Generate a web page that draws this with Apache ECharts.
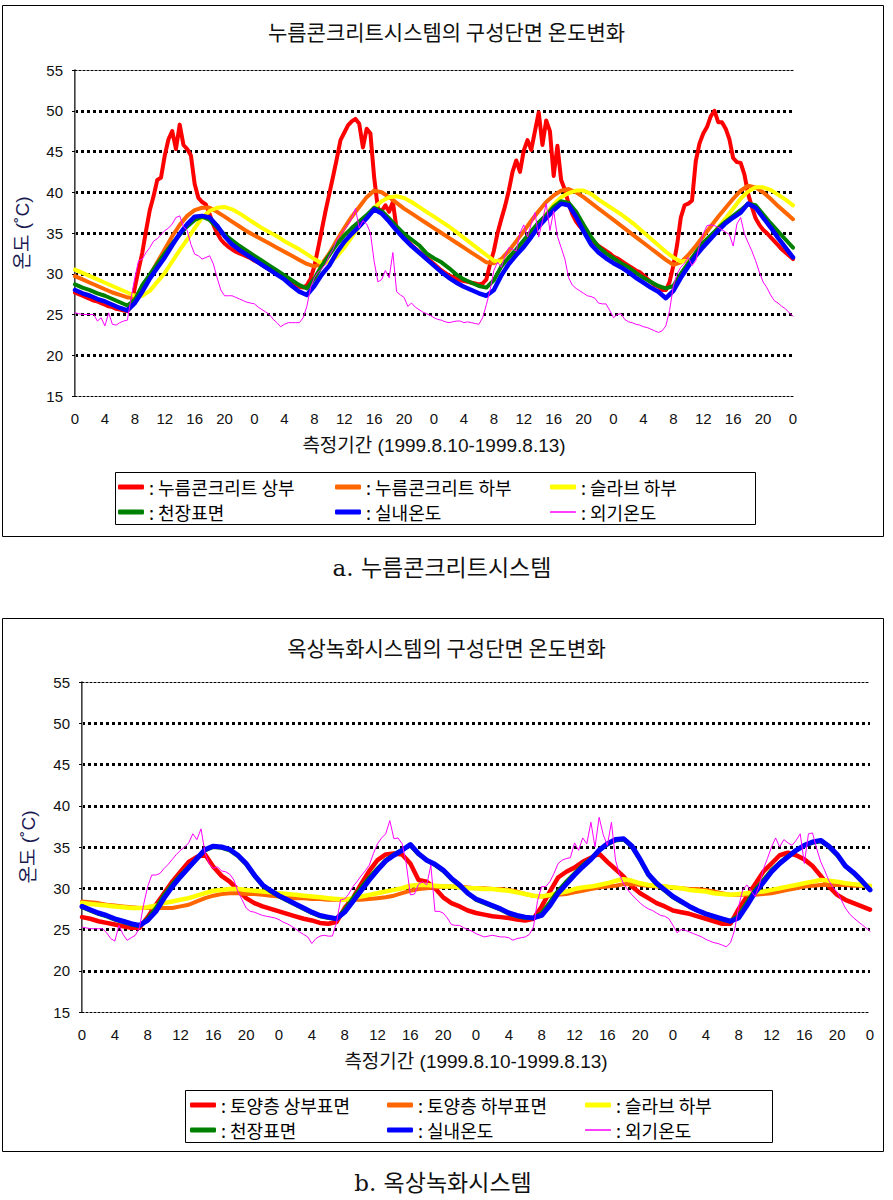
<!DOCTYPE html>
<html><head><meta charset="utf-8">
<script src="https://cdn.jsdelivr.net/npm/echarts@6/dist/echarts.min.js"></script>
<style>html,body{margin:0;padding:0;background:#fff}#c{width:893px;height:1200px}</style>
</head><body><div id="c"></div>
<script>
// ---------- time grid & tick labels ----------
const HOURS_1H = []; for (let h = 0; h <= 96; h++) HOURS_1H.push(h);
const HOURS_HALF = []; for (let h = 0; h <= 96; h += 0.5) HOURS_HALF.push(h);
const X_TICK_LABELS = ['0','4','8','12','16','20','0','4','8','12','16','20','0','4','8','12','16','20','0','4','8','12','16','20','0'];
const Y_MIN = 15, Y_MAX = 55, Y_STEP = 5;

// ---------- chart a: 누름콘크리트시스템 ----------
const A_TITLE = '누름콘크리트시스템의 구성단면 온도변화';
const A_NAMES = ['누름콘크리트 상부','누름콘크리트 하부','슬라브 하부','천장표면','실내온도','외기온도'];
// half-hourly
const A_TOP = [
27.7,27.5,27.3,27.1,26.9,26.7,26.6,26.4, 26.2,26.0,25.9,25.7,25.6,25.5,25.4,26.0,
28.3,30.5,32.6,35.3,37.8,39.5,41.5,41.8, 44.5,46.5,47.5,45.3,48.3,45.8,45.3,44.5,
41.0,39.3,38.8,38.5,37.3,36.0,35.0,34.2, 33.7,33.3,33.0,32.7,32.5,32.3,32.1,31.9,
31.6,31.4,31.1,30.8,30.5,30.3,30.0,29.7, 29.4,29.1,28.8,28.6,28.4,28.3,28.6,29.4,
30.9,33.1,35.4,37.7,39.8,41.9,44.1,46.4, 47.3,48.2,48.7,49.0,48.4,45.5,47.8,47.2,
41.8,38.0,37.7,38.4,37.6,38.8,35.5,35.0, 34.5,34.0,33.5,33.1,32.7,32.3,32.0,31.6,
31.2,30.8,30.4,30.1,29.8,29.6,29.4,29.2, 29.1,29.0,28.9,28.8,28.7,28.8,29.3,31.2,
32.8,35.0,36.7,38.3,40.2,42.5,43.9,42.5, 45.1,46.4,45.2,47.5,49.8,45.8,48.8,47.5,
42.0,45.7,41.5,40.3,38.6,37.3,36.4,35.8, 35.3,34.8,34.3,33.8,33.4,33.1,32.8,32.5,
32.1,31.9,31.6,31.3,31.0,30.7,30.4,30.2, 29.8,29.4,29.0,28.6,28.4,28.0,28.0,29.0,
31.0,33.5,36.9,38.4,38.6,39.0,43.8,46.0, 47.2,48.0,49.3,50.0,48.6,48.6,47.8,46.5,
44.2,43.7,43.6,42.2,39.8,38.2,36.8,36.0, 35.4,35.0,34.5,34.0,33.5,33.0,32.6,32.2,
31.8];
// hourly
const A_BOTTOM = [
29.7,29.3,28.9,28.5,28.1,27.7,27.4,27.1, 27.1,28.2,29.8,31.4,33.0,34.6,36.0,37.1,
37.8,38.1,38.1,37.6,37.0,36.4,35.8,35.2, 34.7,34.2,33.7,33.2,32.7,32.2,31.7,31.2,
30.9,31.2,32.5,34.1,35.6,37.0,38.2,39.4, 40.2,40.0,39.4,38.7,38.0,37.4,36.8,36.2,
35.6,35.0,34.4,33.8,33.2,32.6,32.0,31.4, 31.3,31.8,32.8,34.0,35.2,36.5,37.7,38.8,
39.6,40.2,40.4,40.0,39.4,38.7,38.0,37.3, 36.6,35.9,35.2,34.5,33.8,33.1,32.4,31.7,
31.1,31.4,32.3,33.4,34.6,35.8,37.0,38.1, 39.2,40.2,40.8,40.6,40.0,39.2,38.3,37.5,
36.7];
const A_SLAB = [
30.5,30.1,29.7,29.3,28.9,28.5,28.1,27.7, 27.3,27.3,27.9,29.0,30.1,31.5,32.9,34.2,
35.6,36.9,37.7,38.1,38.2,37.9,37.4,36.8, 36.2,35.6,35.1,34.6,34.0,33.5,33.0,32.4,
31.8,31.3,31.4,32.1,33.2,34.5,35.8,37.0, 38.1,38.9,39.4,39.5,39.3,38.8,38.2,37.6,
37.0,36.4,35.8,35.1,34.4,33.7,33.0,32.3, 31.6,31.5,31.9,32.7,33.6,34.8,36.0,37.3,
38.5,39.4,39.9,40.2,40.2,39.8,39.1,38.5, 37.9,37.3,36.6,35.9,35.1,34.3,33.5,32.7,
32.0,31.5,31.6,32.2,33.3,34.5,35.7,36.8, 38.0,39.2,40.1,40.6,40.6,40.3,39.7,39.1,
38.4];
const A_CEIL = [
28.7,28.3,28.0,27.6,27.3,26.9,26.5,26.1, 26.8,28.6,29.9,31.2,32.5,33.7,34.8,35.8,
36.6,37.0,36.6,35.7,34.8,34.1,33.4,32.8, 32.2,31.6,31.0,30.4,29.8,29.2,28.6,28.2,
29.4,31.0,32.3,33.6,34.7,35.6,36.4,37.2, 38.1,37.7,36.8,35.8,34.9,34.2,33.5,32.5,
31.9,31.4,30.7,29.9,29.3,28.9,28.5,28.3, 29.2,30.9,32.0,33.0,34.1,35.2,36.3,37.2,
38.2,38.9,38.7,37.6,36.0,34.5,33.3,32.5, 31.9,31.3,30.8,30.1,29.5,29.0,28.5,28.2,
28.5,30.0,31.3,32.6,33.8,34.7,35.6,36.4, 37.1,37.8,38.6,38.4,37.3,36.2,35.2,34.2,
33.2];
const A_ROOM = [
28.0,27.6,27.3,26.9,26.6,26.2,25.8,25.5, 26.4,27.8,29.4,30.7,32.0,33.5,34.9,36.1,
37.0,37.1,36.9,35.9,34.6,33.6,32.9,32.3, 31.7,31.1,30.5,29.9,29.3,28.5,27.8,27.4,
28.5,29.9,31.0,32.6,33.9,34.9,35.8,36.8, 37.9,37.4,36.4,35.3,34.3,33.4,32.6,31.8,
31.0,30.2,29.5,28.9,28.4,28.0,27.6,27.3, 28.0,29.8,31.2,32.3,33.3,34.5,35.8,36.8,
37.8,38.6,38.4,37.0,35.2,33.6,32.6,31.9, 31.3,30.8,30.2,29.5,28.9,28.3,27.8,27.0,
27.9,29.5,30.9,32.2,33.3,34.3,35.3,36.2, 36.9,37.5,38.6,38.1,36.9,35.7,34.4,33.2,
32.0];
// half-hourly
const A_OUT = [
25.2,25.1,25.0,25.0,25.0,25.0,24.2,24.6, 23.6,25.2,23.8,23.7,24.0,24.2,24.3,27.0,
29.5,31.6,31.8,32.6,33.2,34.0,34.3,34.8, 35.3,35.6,36.1,36.9,37.1,35.8,35.3,33.6,
32.4,32.2,31.8,32.0,32.2,31.2,29.5,28.0, 27.3,27.3,27.3,27.1,26.9,26.7,26.5,26.4,
26.3,25.9,25.6,25.3,25.0,24.4,24.0,23.5, 23.8,24.0,24.0,24.0,24.0,24.6,26.0,28.3,
29.5,30.2,30.6,31.2,32.2,33.0,34.1,34.8, 35.4,36.0,36.8,38.0,35.6,36.5,36.1,35.0,
31.5,29.0,29.3,30.4,29.5,32.6,27.8,27.4, 27.1,26.0,26.4,25.9,25.6,25.3,25.1,24.9,
24.6,24.4,24.3,24.1,24.0,24.1,24.2,24.2, 24.0,24.1,24.0,23.9,23.8,24.6,26.2,28.0,
30.4,31.4,30.8,32.2,33.2,33.0,32.8,35.0, 36.0,34.5,36.1,37.5,34.5,36.5,38.6,35.3,
37.7,34.6,33.2,31.8,29.5,28.6,28.2,27.9, 27.6,27.3,27.2,27.0,26.4,26.3,26.3,25.5,
24.6,25.0,25.1,24.4,24.1,24.0,23.8,23.7, 23.5,23.4,23.2,23.0,22.8,23.0,23.6,25.5,
28.5,30.0,30.8,31.3,32.0,31.0,31.6,33.5, 34.9,35.9,36.0,35.9,35.7,35.4,35.1,34.8,
33.4,36.1,36.9,34.9,33.8,32.8,31.6,30.2, 29.0,28.3,27.4,26.7,26.4,26.0,25.7,25.2,
24.8];

// ---------- chart b: 옥상녹화시스템 ----------
const B_TITLE = '옥상녹화시스템의 구성단면 온도변화';
const B_NAMES = ['토양층 상부표면','토양층 하부표면','슬라브 하부','천장표면','실내온도','외기온도'];
const B_SOIL_TOP = [
26.5,26.3,26.0,25.8,25.6,25.4,25.2,25.2, 26.5,28.0,29.4,30.8,32.0,33.2,33.8,34.1,
32.6,31.5,30.8,29.8,28.8,28.2,27.8,27.5, 27.2,26.9,26.6,26.3,26.1,25.8,25.7,25.9,
27.6,28.8,30.5,32.1,33.4,34.1,34.2,34.1, 33.0,31.0,30.8,30.0,28.9,28.2,27.8,27.3,
27.0,26.8,26.6,26.5,26.4,26.2,26.1,26.3, 27.8,29.6,31.3,32.0,32.5,33.2,33.7,34.2,
33.2,32.3,31.4,30.2,29.4,28.8,28.2,27.8, 27.3,27.1,26.9,26.6,26.3,26.0,25.7,25.7,
27.5,29.0,30.5,32.0,33.0,34.0,34.3,34.0, 33.5,32.7,31.5,30.2,29.2,28.6,28.2,27.8,
27.4];
const B_SOIL_BOTTOM = [
28.4,28.3,28.2,28.0,27.9,27.8,27.7,27.6, 27.6,27.6,27.6,27.6,27.8,28.0,28.4,28.8,
29.1,29.3,29.4,29.4,29.3,29.3,29.2,29.1, 29.0,28.9,28.8,28.8,28.7,28.7,28.6,28.6,
28.6,28.6,28.6,28.7,28.8,28.9,29.1,29.4, 29.7,29.9,30.0,30.1,30.2,30.2,30.2,30.1,
30.0,30.0,29.9,29.9,29.8,29.6,29.3,29.1, 29.0,29.1,29.2,29.3,29.5,29.7,29.9,30.1,
30.2,30.3,30.5,30.5,30.4,30.3,30.2,30.2, 30.1,30.0,29.9,29.9,29.8,29.6,29.4,29.2,
29.2,29.2,29.2,29.3,29.4,29.6,29.8,30.0, 30.2,30.3,30.4,30.4,30.4,30.4,30.3,30.3,
30.2];
const B_SLAB = [
28.2,28.1,28.0,27.9,27.8,27.7,27.6,27.6, 27.7,27.9,28.2,28.4,28.6,28.8,29.1,29.4,
29.7,29.8,29.9,29.9,29.8,29.7,29.6,29.5, 29.4,29.3,29.2,29.1,29.0,28.9,28.8,28.7,
28.6,28.8,29.0,29.2,29.4,29.6,29.8,30.0, 30.3,30.4,30.4,30.3,30.2,30.2,30.1,30.0,
30.0,29.9,29.9,29.8,29.7,29.5,29.3,29.1, 29.0,29.2,29.4,29.6,29.9,30.1,30.2,30.4,
30.6,30.9,31.1,30.9,30.6,30.4,30.3,30.2, 30.1,30.0,29.8,29.7,29.6,29.4,29.3,29.2,
29.3,29.4,29.5,29.6,29.8,30.0,30.2,30.4, 30.6,30.8,31.0,30.9,30.8,30.6,30.5,30.4,
30.3];
const B_CEIL = [
27.7,27.3,26.9,26.6,26.2,25.9,25.6,25.4, 26.3,27.6,29.2,30.5,31.6,32.6,33.6,34.6,
35.0,34.9,34.6,33.9,32.9,31.5,30.3,29.6, 29.0,28.5,28.0,27.5,27.0,26.6,26.4,26.3,
27.4,28.8,30.1,31.3,32.4,33.4,34.1,34.7, 35.2,34.1,33.4,32.8,32.1,31.1,30.3,29.4,
28.6,28.2,27.8,27.4,26.9,26.6,26.4,26.4, 27.0,28.3,29.7,30.8,31.8,32.8,33.6,34.6,
35.3,35.8,35.9,35.0,33.4,31.6,30.5,29.7, 28.9,28.3,27.8,27.3,26.9,26.5,26.2,26.0,
26.7,28.3,29.8,31.0,32.2,33.1,33.9,34.6, 35.2,35.5,35.7,35.0,34.0,32.7,31.8,30.8,
29.8];
const B_ROOM = [
27.8,27.4,27.0,26.7,26.3,26.0,25.7,25.5, 26.1,27.2,28.8,30.2,31.4,32.5,33.6,34.7,
35.1,35.0,34.7,34.0,33.0,31.6,30.4,29.7, 29.1,28.6,28.1,27.6,27.1,26.7,26.5,26.3,
27.1,28.4,29.7,31.0,32.2,33.3,34.0,34.6, 35.3,34.2,33.4,32.9,32.2,31.2,30.4,29.4,
28.7,28.3,27.9,27.5,27.0,26.7,26.5,26.4, 26.7,27.9,29.4,30.5,31.6,32.6,33.5,34.6,
35.4,35.9,36.0,35.1,33.5,31.7,30.6,29.8, 29.0,28.4,27.8,27.3,26.9,26.6,26.3,26.0,
26.4,27.9,29.5,30.7,32.0,33.0,33.8,34.6, 35.2,35.6,35.8,35.1,34.1,32.7,31.9,30.9,
29.8];
const B_OUT = [
25.3,25.2,25.1,25.1,25.1,25.1,24.6,23.9, 23.6,25.5,24.4,23.7,24.0,24.3,25.2,28.0,
30.2,31.6,31.6,31.8,32.4,32.9,33.5,34.1, 34.6,35.0,35.5,36.6,35.9,37.2,34.2,33.0,
32.4,32.6,32.1,32.0,31.7,31.0,29.6,28.6, 27.6,27.2,27.1,26.9,26.7,26.6,26.5,26.4,
26.2,25.9,25.7,25.4,25.1,24.7,24.4,24.1, 23.3,23.9,24.2,24.3,24.2,24.2,25.8,28.6,
28.7,29.3,30.2,30.8,31.5,32.1,32.8,34.2, 35.4,36.1,36.6,38.2,36.0,36.1,35.4,33.0,
29.2,29.3,30.5,30.8,30.4,32.8,27.2,27.2, 27.0,26.4,25.6,25.5,25.5,25.2,25.0,24.8,
24.5,24.3,24.1,24.2,24.3,24.2,24.1,24.1, 24.0,23.7,23.9,24.0,24.1,24.4,25.3,28.5,
30.2,30.2,30.8,31.8,33.0,33.4,33.6,33.7, 35.5,34.6,36.1,35.4,38.0,35.0,38.6,36.5,
35.2,38.0,33.4,31.6,30.5,29.8,29.2,28.7, 28.2,27.8,27.5,27.3,27.0,26.7,26.6,26.3,
25.5,24.6,25.0,24.9,24.7,24.5,24.3,24.1, 23.8,23.6,23.4,23.3,23.1,22.9,23.4,24.9,
27.8,29.8,30.4,29.7,29.0,30.3,32.3,33.6, 35.0,36.1,35.0,35.9,35.5,35.2,35.8,36.6,
33.0,36.6,36.7,34.8,33.2,32.1,30.9,30.1, 29.5,28.6,27.6,26.9,26.4,26.0,25.6,25.2,
24.8];

const COLORS = ['#FF0000','#FF6600','#FFFF00','#008000','#0000FF','#FF00FF'];
const X_NAME = '측정기간 (1999.8.10-1999.8.13)';
const Y_NAME = '온도 (˚C)';
const CAPTION_A = 'a. 누름콘크리트시스템';
const CAPTION_B = 'b. 옥상녹화시스템';

// ---------- build ----------
const FONT = "'Liberation Sans', 'Noto Sans CJK KR', sans-serif";
const KFONT = "'Noto Sans CJK KR', sans-serif";
function pairs(hours, vals) { return hours.map((h, i) => [h, vals[i]]); }

const GRIDS = [
  { left: 75, top: 70, width: 718, height: 326, nameGapY: 43 },
  { left: 82, top: 682, width: 788, height: 330, nameGapY: 44 }
];

const xAxes = [], yAxes = [];
GRIDS.forEach((g, gi) => {
  xAxes.push({
    gridIndex: gi, type: 'value', min: 0, max: 96, interval: 4, position: 'bottom',
    axisLine: { show: true, lineStyle: { color: '#000', width: 1.2, type: [2, 2] } },
    axisTick: { show: false },
    splitLine: { show: false },
    axisLabel: { margin: 15, fontSize: 15, color: '#111', fontFamily: FONT,
      formatter: v => X_TICK_LABELS[Math.round(v / 4)] },
    name: X_NAME, nameLocation: 'middle', nameGap: 40,
    nameTextStyle: { fontSize: 19, color: '#111', fontFamily: FONT }
  });
  xAxes.push({
    gridIndex: gi, type: 'value', min: 0, max: 96, position: 'top',
    axisLine: { show: true, lineStyle: { color: '#000', width: 1.2, type: [2, 2] } },
    axisTick: { show: false }, axisLabel: { show: false }, splitLine: { show: false }
  });
  yAxes.push({
    gridIndex: gi, type: 'value', min: Y_MIN, max: Y_MAX, interval: Y_STEP,
    axisLine: { show: true, lineStyle: { color: '#000', width: 1.5 } },
    axisTick: { show: true, length: 3, lineStyle: { color: '#000' } },
    axisLabel: { margin: 12, fontSize: 15, color: '#111', fontFamily: FONT },
    splitLine: { show: true, showMinLine: false, showMaxLine: false,
      lineStyle: { color: '#000', width: 2.8, type: [3, 3] } },
    name: Y_NAME, nameLocation: 'middle', nameGap: g.nameGapY, nameRotate: 90,
    nameTextStyle: { fontSize: 19, color: '#1a1a50', fontFamily: FONT }
  });
  yAxes.push({
    gridIndex: gi, type: 'value', min: Y_MIN, max: Y_MAX, position: 'right',
    axisLine: { show: true, lineStyle: { color: '#888', width: 1 } },
    axisTick: { show: false }, axisLabel: { show: false }, splitLine: { show: false }
  });
});

function mkSeries(name, hours, vals, gi, ci, width) {
  return {
    type: 'line', name, xAxisIndex: gi * 2, yAxisIndex: gi * 2,
    data: pairs(hours, vals), symbol: 'none', showSymbol: false, animation: false,
    lineStyle: { color: COLORS[ci], width, join: 'round', cap: 'round' },
    itemStyle: { color: COLORS[ci] }, emphasis: { disabled: true }, silent: true
  };
}

const series = [
  mkSeries(A_NAMES[0], HOURS_HALF, A_TOP, 0, 0, 4),
  mkSeries(A_NAMES[1], HOURS_1H, A_BOTTOM, 0, 1, 4),
  mkSeries(A_NAMES[2], HOURS_1H, A_SLAB, 0, 2, 4),
  mkSeries(A_NAMES[3], HOURS_1H, A_CEIL, 0, 3, 4),
  mkSeries(A_NAMES[4], HOURS_1H, A_ROOM, 0, 4, 4.5),
  mkSeries(A_NAMES[5], HOURS_HALF, A_OUT, 0, 5, 1),
  mkSeries(B_NAMES[0], HOURS_1H, B_SOIL_TOP, 1, 0, 4.5),
  mkSeries(B_NAMES[1], HOURS_1H, B_SOIL_BOTTOM, 1, 1, 4),
  mkSeries(B_NAMES[2], HOURS_1H, B_SLAB, 1, 2, 4.5),
  mkSeries(B_NAMES[3], HOURS_1H, B_CEIL, 1, 3, 4),
  mkSeries(B_NAMES[4], HOURS_1H, B_ROOM, 1, 4, 5),
  mkSeries(B_NAMES[5], HOURS_HALF, B_OUT, 1, 5, 1)
];

// legends: one component per item, laid out 3 columns x 2 rows
const LEGEND_LAYOUT = [
  { names: A_NAMES, cols: [118, 335, 550], rows: [477, 502] },
  { names: B_NAMES, cols: [190, 387, 585], rows: [1095, 1120] }
];
const legends = [];
LEGEND_LAYOUT.forEach(L => {
  L.names.forEach((nm, i) => {
    const ci = i;
    legends.push({
      data: [{ name: nm, icon: 'roundRect', itemStyle: { color: COLORS[ci] } }],
      left: L.cols[i % 3], top: L.rows[Math.floor(i / 3)],
      orient: 'vertical', padding: 0, selectedMode: false,
      itemWidth: 26, itemHeight: ci === 5 ? 1.5 : 5,
      formatter: ': {name}',
      textStyle: { fontSize: 18, color: '#000', fontFamily: KFONT, lineHeight: 20 }
    });
  });
});

const option = {
  animation: false,
  textStyle: { fontFamily: FONT },
  title: [
    { text: A_TITLE, left: 'center', top: 20, padding: 0,
      textStyle: { fontSize: 21, fontWeight: 'normal', color: '#111', fontFamily: KFONT } },
    { text: B_TITLE, left: 'center', top: 636, padding: 0,
      textStyle: { fontSize: 21, fontWeight: 'normal', color: '#111', fontFamily: KFONT } }
  ],
  grid: GRIDS.map(g => ({ left: g.left, top: g.top, width: g.width, height: g.height, containLabel: false })),
  xAxis: xAxes,
  yAxis: yAxes,
  legend: legends,
  series,
  graphic: [
    { type: 'rect', shape: { x: 2.5, y: 5.5, width: 881, height: 531 }, style: { fill: 'none', stroke: '#000', lineWidth: 1 }, silent: true },
    { type: 'rect', shape: { x: 2.5, y: 618.5, width: 881, height: 533 }, style: { fill: 'none', stroke: '#000', lineWidth: 1 }, silent: true },
    { type: 'rect', shape: { x: 115.5, y: 472.5, width: 640, height: 52 }, style: { fill: 'none', stroke: '#000', lineWidth: 1 }, silent: true },
    { type: 'rect', shape: { x: 185.5, y: 1090.5, width: 587, height: 52 }, style: { fill: 'none', stroke: '#000', lineWidth: 1 }, silent: true },
    { type: 'text', x: 442, y: 568, style: { text: CAPTION_A, fontSize: 23, fill: '#111', align: 'center', verticalAlign: 'middle',
      fontFamily: "'DejaVu Serif', 'Liberation Serif', 'Noto Sans CJK KR', serif" }, silent: true },
    { type: 'text', x: 443, y: 1183, style: { text: CAPTION_B, fontSize: 23, fill: '#111', align: 'center', verticalAlign: 'middle',
      fontFamily: "'DejaVu Serif', 'Liberation Serif', 'Noto Sans CJK KR', serif" }, silent: true }
  ]
};

const chart = echarts.init(document.getElementById('c'), null, { renderer: 'svg', width: 893, height: 1200 });
chart.setOption(option);
</script>
</body></html>
